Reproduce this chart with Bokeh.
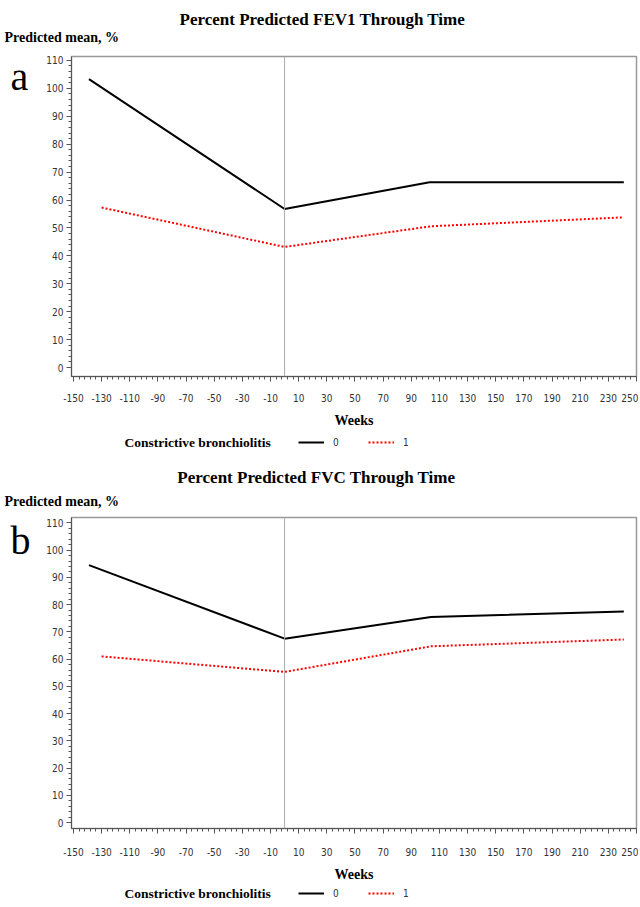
from bokeh.plotting import figure
from bokeh.models import Range1d, FixedTicker, Span, Legend, LegendItem, PrintfTickFormatter
from bokeh.layouts import column, row
from bokeh.embed import file_html
from bokeh.resources import INLINE
from bokeh.core.properties import value

# ---------------- data ----------------
weeks_ticks = list(range(-150, 251, 20))
mean_ticks = list(range(0, 111, 10))

fev1_weeks_0 = [-139, 0, 103, 241]
fev1_mean_0 = [103.3, 56.8, 66.4, 66.4]
fev1_weeks_1 = [-130, 0, 104, 241]
fev1_mean_1 = [57.3, 43.2, 50.6, 53.8]

fvc_weeks_0 = [-139, 0, 104, 241]
fvc_mean_0 = [94.5, 67.5, 75.5, 77.5]
fvc_weeks_1 = [-130, 0, 104, 241]
fvc_mean_1 = [61.0, 55.3, 64.7, 67.2]

titles = ["Percent Predicted FEV1 Through Time", "Percent Predicted FVC Through Time"]
letters = ["a", "b"]
y_label = "Predicted mean, %"
x_label = "Weeks"
legend_title = "Constrictive bronchiolitis"
group_labels = ["0", "1"]

# ---------------- style ----------------
SERIF = "'Liberation Serif', 'Times New Roman', serif"
NARROW = "'Liberation Sans Narrow', 'Arial Narrow', 'DejaVu Sans Condensed', sans-serif"
W = 638
LW = 36


def blank(width, height):
    f = figure(width=width, height=height, output_backend="svg", toolbar_location=None,
               x_range=Range1d(0, width), y_range=Range1d(height, 0),
               x_axis_type=None, y_axis_type=None,
               min_border=0, min_border_left=0, min_border_right=0,
               min_border_top=0, min_border_bottom=0)
    f.grid.visible = False
    f.outline_line_color = None
    f.background_fill_color = "white"
    f.border_fill_color = "white"
    return f


def header(title, h, title_x, title_y, ylab_y):
    f = blank(W, h)
    f.text(x=[title_x], y=[title_y], text=[title], text_font=value(SERIF),
           text_font_style="bold", text_font_size="17px", text_align="center",
           text_baseline="middle", text_color="black")
    f.text(x=[4], y=[ylab_y], text=[y_label], text_font=value(SERIF),
           text_font_style="bold", text_font_size="14px", text_align="left",
           text_baseline="middle", text_color="black")
    return f


def letter_fig(letter, h, base_y):
    f = blank(LW, h)
    f.text(x=[10], y=[base_y], text=[letter], text_font=value(SERIF),
           text_font_size="40px", text_align="left", text_baseline="alphabetic",
           text_color="black")
    return f


def main_fig(wx0, m0, wx1, m1, h, top, fh, yr, lab_standoff):
    p = figure(width=W - LW, height=h, output_backend="svg", toolbar_location=None,
               x_range=Range1d(-151.4, 250), y_range=Range1d(*yr),
               min_border_left=35, min_border_right=2, min_border_top=top,
               min_border_bottom=h - top - fh)
    p.grid.visible = False
    p.outline_line_color = "#999999"
    p.outline_line_width = 1.5
    p.background_fill_color = "white"
    p.border_fill_color = "white"

    p.xaxis.ticker = FixedTicker(ticks=weeks_ticks, minor_ticks=list(range(-150, 251, 4)))
    p.yaxis.ticker = FixedTicker(ticks=mean_ticks, minor_ticks=list(range(0, 111, 2)))
    for ax in (p.xaxis[0], p.yaxis[0]):
        ax.formatter = PrintfTickFormatter(format="%d")
        ax.axis_line_color = "#555555"
        ax.major_tick_line_color = "#555555"
        ax.minor_tick_line_color = "#555555"
        ax.major_tick_out = 5
        ax.major_tick_in = 0
        ax.minor_tick_out = 3
        ax.minor_tick_in = 0
        ax.major_label_text_font = NARROW
        ax.major_label_text_font_size = "10px"
        ax.major_label_text_color = "#333333"
    p.xaxis.major_label_standoff = lab_standoff
    p.yaxis.major_label_standoff = 3
    p.xaxis.axis_label = x_label
    p.xaxis.axis_label_text_font = SERIF
    p.xaxis.axis_label_text_font_style = "bold"
    p.xaxis.axis_label_text_font_size = "14px"
    p.xaxis.axis_label_text_color = "black"
    p.xaxis.axis_label_standoff = 8

    p.add_layout(Span(location=0, dimension="height", line_color="#aaaaaa", line_width=1))
    p.line(wx0, m0, line_color="black", line_width=2)
    p.line(wx1, m1, line_color="#ff0000", line_width=2, line_dash="2 2")
    return p


def footer(h, cy, wx0, m0, wx1, m1):
    f = blank(W, h)
    f.text(x=[124], y=[cy], text=[legend_title], text_font=value(SERIF),
           text_font_style="bold", text_font_size="13.5px", text_align="left",
           text_baseline="middle", text_color="black")
    # legend keys: same series, which fall outside this strip's range (only the keys show)
    k0 = f.line(wx0, m0, line_color="black", line_width=2)
    k1 = f.line(wx1, m1, line_color="#ff0000", line_width=2, line_dash="2 2")
    leg = Legend(items=[LegendItem(label=group_labels[0], renderers=[k0]),
                        LegendItem(label=group_labels[1], renderers=[k1])],
                 orientation="horizontal", location=(298, h - cy - 6))
    leg.border_line_color = None
    leg.background_fill_alpha = 0
    leg.padding = 0
    leg.margin = 0
    leg.spacing = 15
    leg.glyph_width = 26
    leg.glyph_height = 12
    leg.label_height = 12
    leg.label_standoff = 9
    leg.label_text_font = NARROW
    leg.label_text_font_size = "10px"
    leg.label_text_color = "#333333"
    f.add_layout(leg)
    return f


# panel a
ha = header(titles[0], 48, 322, 19, 37)
la = letter_fig(letters[0], 382, 24)
ma = main_fig(fev1_weeks_0, fev1_mean_0, fev1_weeks_1, fev1_mean_1, 382, 8, 325, (-3.2, 111.4), 12)
fa = footer(30, 12, fev1_weeks_0, fev1_mean_0, fev1_weeks_1, fev1_mean_1)

# panel b
hb = header(titles[1], 50, 316, 17, 41)
lb = letter_fig(letters[1], 374, 28)
mb = main_fig(fvc_weeks_0, fvc_mean_0, fvc_weeks_1, fvc_mean_1, 374, 7, 320, (-2.2, 112.0), 14)
fb = footer(23, 9, fvc_weeks_0, fvc_mean_0, fvc_weeks_1, fvc_mean_1)

layout = column(ha, row(la, ma, spacing=0), fa, hb, row(lb, mb, spacing=0), fb, spacing=0)
open("out.html", "w").write(file_html(layout, INLINE))
